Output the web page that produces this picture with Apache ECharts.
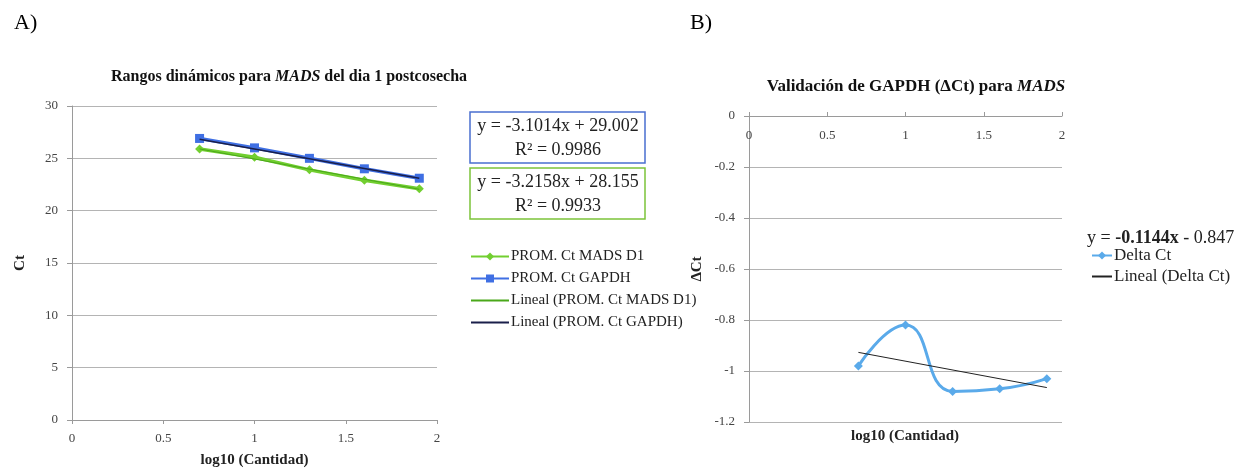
<!DOCTYPE html>
<html>
<head>
<meta charset="utf-8">
<script src="https://cdn.jsdelivr.net/npm/echarts@6/dist/echarts.min.js"></script>
<style>html,body{margin:0;padding:0;background:#fff}#c{width:1250px;height:469px}</style>
</head>
<body>
<div id="c"></div>
<script>
// ---- data ----
const xVals = [0.699, 1.0, 1.301, 1.602, 1.903];
const madsCt = [25.9, 25.1, 23.9, 22.9, 22.1];
const gapdhCt = [26.9, 26.0, 25.0, 24.0, 23.1];
const trendX = [0.699, 1.903];
const madsTrend = [25.90, 22.04];
const gapdhTrend = [26.83, 23.10];
const deltaCt = [-0.98, -0.82, -1.08, -1.07, -1.03];
const deltaTrend = [-0.927, -1.065];
const seriesNamesA = ['PROM. Ct MADS D1', 'PROM. Ct GAPDH', 'Lineal (PROM. Ct MADS D1)', 'Lineal (PROM. Ct GAPDH)'];
const seriesNamesB = ['Delta Ct', 'Lineal (Delta Ct)'];
const eqGapdh = ['y = -3.1014x + 29.002', 'R² = 0.9986'];
const eqMads = ['y = -3.2158x + 28.155', 'R² = 0.9933'];

const pairs = (xs, ys) => xs.map((x, i) => [x, ys[i]]);
const F = 'Liberation Serif';
const gridCol = '#b4b4b4';
const axisCol = '#9a9a9a';
const labelStyle = { fontFamily: F, fontSize: 13, color: '#444' };
const nameStyle = { fontFamily: F, fontSize: 15, fontWeight: 'bold', color: '#222' };
const noSymbol = { color: 'rgba(0,0,0,0)', borderColor: 'rgba(0,0,0,0)', borderWidth: 0 };

const chart = echarts.init(document.getElementById('c'), null, { renderer: 'canvas' });
chart.setOption({
  backgroundColor: '#fff',
  animation: false,
  textStyle: { fontFamily: F },
  grid: [
    { left: 72, top: 106, width: 365, height: 314, outerBoundsMode: 'none', containLabel: false },
    { left: 749, top: 116, width: 313, height: 306, outerBoundsMode: 'none', containLabel: false }
  ],
  xAxis: [
    {
      gridIndex: 0, type: 'value', min: 0, max: 2, interval: 0.5,
      name: 'log10 (Cantidad)', nameLocation: 'middle', nameGap: 33,
      nameTextStyle: nameStyle,
      axisLine: { show: true, lineStyle: { color: axisCol } },
      axisTick: { show: true, length: 4, lineStyle: { color: axisCol } },
      axisLabel: Object.assign({ margin: 12 }, labelStyle),
      splitLine: { show: false }
    },
    {
      gridIndex: 1, type: 'value', min: 0, max: 2, interval: 0.5, position: 'top',
      axisLine: { show: true, lineStyle: { color: axisCol } },
      axisTick: { show: true, inside: false, length: 4, lineStyle: { color: axisCol } },
      axisLabel: Object.assign({ margin: 13, inside: true }, labelStyle),
      splitLine: { show: false }
    }
  ],
  yAxis: [
    {
      gridIndex: 0, type: 'value', min: 0, max: 30, interval: 5,
      name: 'Ct', nameLocation: 'middle', nameGap: 44,
      nameTextStyle: nameStyle,
      axisLine: { show: true, lineStyle: { color: axisCol } },
      axisTick: { show: true, length: 5, lineStyle: { color: axisCol } },
      axisLabel: Object.assign({ margin: 14 }, labelStyle),
      splitLine: { show: true, lineStyle: { color: gridCol } }
    },
    {
      gridIndex: 1, type: 'value', min: -1.2, max: 0, interval: 0.2,
      name: 'ΔCt', nameLocation: 'middle', nameGap: 44,
      nameTextStyle: nameStyle,
      axisLine: { show: true, lineStyle: { color: axisCol } },
      axisTick: { show: true, length: 5, lineStyle: { color: axisCol } },
      axisLabel: Object.assign({ margin: 14 }, labelStyle),
      splitLine: { show: true, lineStyle: { color: gridCol } }
    }
  ],
  legend: [
    {
      data: [
        { name: seriesNamesA[0] },
        { name: seriesNamesA[1] },
        { name: seriesNamesA[2], itemStyle: noSymbol },
        { name: seriesNamesA[3], itemStyle: noSymbol }
      ],
      orient: 'vertical', left: 465, top: 244,
      itemWidth: 38, itemHeight: 10, itemGap: 7,
      textStyle: { fontFamily: F, fontSize: 15, color: '#222', padding: [0, 0, 0, -3] }
    },
    {
      data: [
        { name: seriesNamesB[0] },
        { name: seriesNamesB[1], itemStyle: noSymbol }
      ],
      orient: 'vertical', left: 1086, top: 242,
      itemWidth: 20, itemHeight: 10, itemGap: 4,
      textStyle: { fontFamily: F, fontSize: 17, color: '#222', padding: [0, 0, 0, -3] }
    }
  ],
  series: [
    {
      name: seriesNamesA[0], type: 'line', xAxisIndex: 0, yAxisIndex: 0,
      data: pairs(xVals, madsCt), symbol: 'diamond', symbolSize: 9,
      lineStyle: { color: '#72cf30', width: 3.5 }, itemStyle: { color: '#72cf30' }, z: 2
    },
    {
      name: seriesNamesA[1], type: 'line', xAxisIndex: 0, yAxisIndex: 0,
      data: pairs(xVals, gapdhCt), symbol: 'rect', symbolSize: 9,
      lineStyle: { color: '#3f6fe3', width: 3.5 }, itemStyle: { color: '#3f6fe3' }, z: 2
    },
    {
      name: seriesNamesA[2], type: 'line', xAxisIndex: 0, yAxisIndex: 0,
      data: pairs(trendX, madsTrend), symbol: 'none',
      lineStyle: { color: '#4aa81a', width: 1 }, itemStyle: { color: '#4aa81a' }, z: 3
    },
    {
      name: seriesNamesA[3], type: 'line', xAxisIndex: 0, yAxisIndex: 0,
      data: pairs(trendX, gapdhTrend), symbol: 'none',
      lineStyle: { color: '#1a1f4a', width: 1.5 }, itemStyle: { color: '#1a1f4a' }, z: 3
    },
    {
      name: seriesNamesB[0], type: 'line', xAxisIndex: 1, yAxisIndex: 1,
      data: pairs(xVals, deltaCt), symbol: 'diamond', symbolSize: 9, smooth: 0.5,
      lineStyle: { color: '#5aaaea', width: 3 }, itemStyle: { color: '#5aaaea' }, z: 2
    },
    {
      name: seriesNamesB[1], type: 'line', xAxisIndex: 1, yAxisIndex: 1,
      data: pairs(trendX, deltaTrend), symbol: 'none',
      lineStyle: { color: '#222', width: 1 }, itemStyle: { color: '#222' }, z: 3
    }
  ],
  graphic: [
    { type: 'text', left: 14, top: 12, style: { text: 'A)', font: '22px "Liberation Serif"', fill: '#000' } },
    { type: 'text', left: 690, top: 12, style: { text: 'B)', font: '22px "Liberation Serif"', fill: '#000' } },
    {
      type: 'text', x: 289, y: 77,
      style: {
        text: '{b|Rangos dinámicos para }{i|MADS}{b| del dia 1 postcosecha}',
        align: 'center', verticalAlign: 'middle',
        rich: {
          b: { fontFamily: F, fontSize: 16, fontWeight: 'bold', fill: '#111' },
          i: { fontFamily: F, fontSize: 16, fontWeight: 'bold', fontStyle: 'italic', fill: '#111' }
        }
      }
    },
    {
      type: 'text', x: 916, y: 87,
      style: {
        text: '{b|Validación de GAPDH (ΔCt) para }{i|MADS}',
        align: 'center', verticalAlign: 'middle',
        rich: {
          b: { fontFamily: F, fontSize: 17, fontWeight: 'bold', fill: '#111' },
          i: { fontFamily: F, fontSize: 17, fontWeight: 'bold', fontStyle: 'italic', fill: '#111' }
        }
      }
    },
    { type: 'rect', shape: { x: 470, y: 112, width: 175, height: 51 }, style: { fill: '#fff', stroke: '#4a6fd0', lineWidth: 1.5 } },
    { type: 'text', x: 558, y: 138, style: { text: eqGapdh.join('\n'), align: 'center', verticalAlign: 'middle', lineHeight: 24, font: '18px "Liberation Serif"', fill: '#222' } },
    { type: 'rect', shape: { x: 470, y: 168, width: 175, height: 51 }, style: { fill: '#fff', stroke: '#7cc43a', lineWidth: 1.5 } },
    { type: 'text', x: 558, y: 194, style: { text: eqMads.join('\n'), align: 'center', verticalAlign: 'middle', lineHeight: 24, font: '18px "Liberation Serif"', fill: '#222' } },
    {
      type: 'text', x: 1087, y: 238,
      style: {
        text: '{n|y = }{b|-0.1144x}{n| - 0.847}', verticalAlign: 'middle',
        rich: {
          n: { fontFamily: F, fontSize: 18, fill: '#222' },
          b: { fontFamily: F, fontSize: 18, fontWeight: 'bold', fill: '#222' }
        }
      }
    },
    { type: 'text', x: 905, y: 436, style: { text: 'log10 (Cantidad)', align: 'center', verticalAlign: 'middle', font: 'bold 15px "Liberation Serif"', fill: '#222' } }
  ]
});
</script>
</body>
</html>
